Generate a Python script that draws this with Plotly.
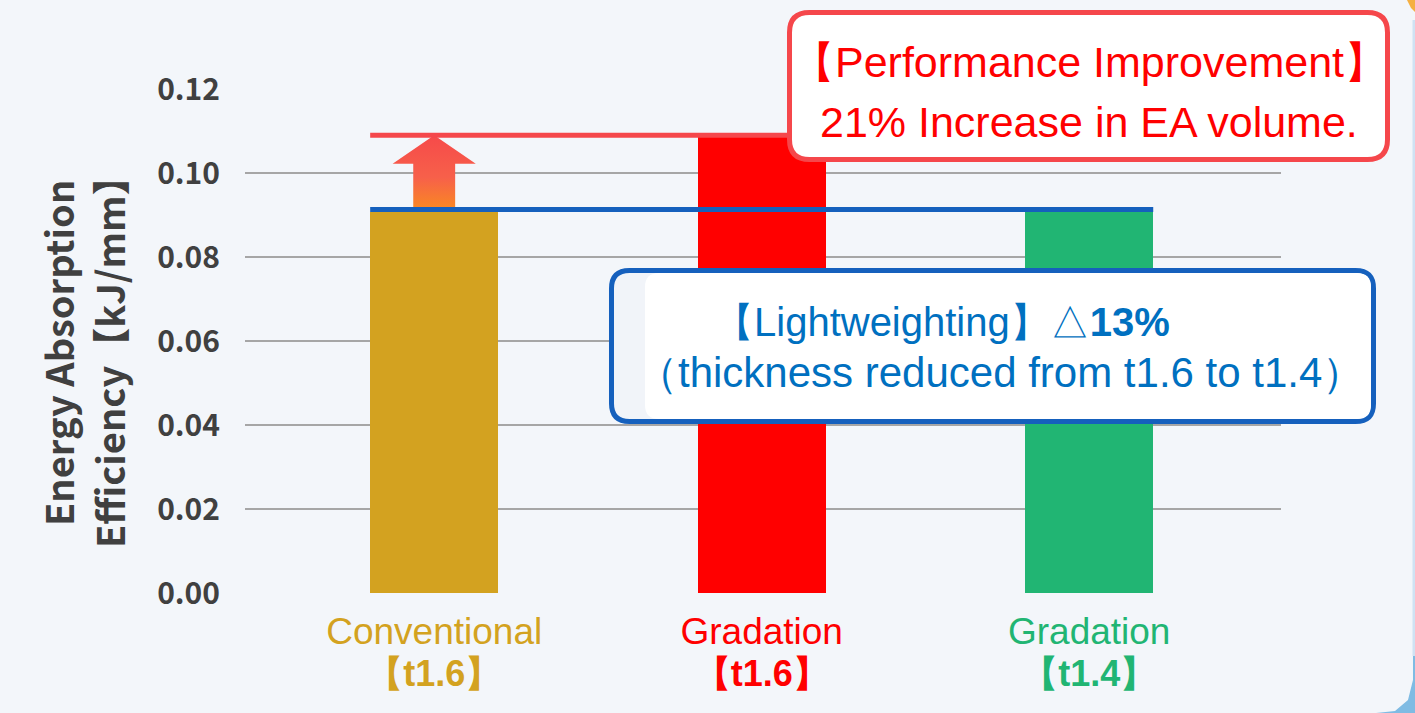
import plotly.graph_objects as go

# ---------------- data ----------------
categories = ["Conventional", "Gradation", "Gradation"]
thickness = ["t1.6", "t1.6", "t1.4"]
ea_efficiency = [0.0907, 0.1090, 0.0907]
y_ticks = [0.00, 0.02, 0.04, 0.06, 0.08, 0.10, 0.12]
y_title_lines = ["Energy Absorption", "Efficiency【kJ/mm】"]
perf_lines = ["【Performance Improvement】", "21% Increase in EA volume."]
light_lines = ["【Lightweighting】△<b>13%</b>", "（thickness reduced from t1.6 to t1.4）"]

# ---------------- style ----------------
bar_colors = ["#D3A220", "#FF0000", "#21B573"]
RED_LINE = "#F5474B"
BLUE_LINE = "#1560BD"
BLUE_TEXT = "#0070C0"
GRID = "#A6A6A6"
BG = "#F3F6FA"
DARK = "#404040"

W, H = 1415, 713
L, R, T, B = 245, 134, 89, 120
PW = W - L - R
PH = H - T - B


def px(x):
    return (x - L) / PW


def py(y):
    return (H - B - y) / PH


def rrect(x0, y0, x1, y1, r):
    """rounded rectangle path in paper coords from pixel coords"""
    def p(x, y):
        return f"{px(x):.5f},{py(y):.5f}"
    return (f"M {p(x0 + r, y0)} L {p(x1 - r, y0)} Q {p(x1, y0)} {p(x1, y0 + r)} "
            f"L {p(x1, y1 - r)} Q {p(x1, y1)} {p(x1 - r, y1)} "
            f"L {p(x0 + r, y1)} Q {p(x0, y1)} {p(x0, y1 - r)} "
            f"L {p(x0, y0 + r)} Q {p(x0, y0)} {p(x0 + r, y0)} Z")


def ppath(points):
    return "M " + " L ".join(f"{px(x):.5f},{py(y):.5f}" for x, y in points) + " Z"


idx = list(range(len(categories)))
bar_w = 0.391
yunit = 0.12 / PH  # data units per pixel

fig = go.Figure()
fig.add_trace(go.Bar(
    x=idx, y=ea_efficiency, width=bar_w,
    marker=dict(color=bar_colors, line=dict(width=0)),
    hoverinfo="skip", showlegend=False,
))

# gradient arrow from conventional level to gradation level
base = ea_efficiency[0]
tip = ea_efficiency[1]
head_base = tip - 0.0068
shw, hhw = 0.064, 0.127
ax = [-shw, shw, shw, hhw, 0, -hhw, -shw, -shw]
ay = [base, base, head_base, head_base, tip, head_base, head_base, base]
fig.add_trace(go.Scatter(
    x=ax, y=ay, mode="lines", line=dict(width=0), fill="toself",
    fillgradient=dict(type="vertical",
                      colorscale=[[0, "#F98C1F"], [0.45, "#F7604A"], [1, "#F64A4A"]]),
    hoverinfo="skip", showlegend=False,
))

shapes = []
# blue reference line at conventional level
shapes.append(dict(type="line", xref="x", yref="y",
                   x0=-bar_w / 2, x1=idx[-1] + bar_w / 2,
                   y0=base + 2.5 * yunit, y1=base + 2.5 * yunit,
                   line=dict(color=BLUE_LINE, width=5), layer="above"))
# red line at improved level
shapes.append(dict(type="line", xref="x", yref="y",
                   x0=-bar_w / 2, x1=1.3, y0=tip, y1=tip,
                   line=dict(color=RED_LINE, width=5), layer="above"))
# performance box
shapes.append(dict(type="path", xref="paper", yref="paper",
                   path=rrect(789.5, 12.5, 1387.5, 159.5, 20),
                   fillcolor="white", line=dict(color=RED_LINE, width=5), layer="above"))
# lightweighting box
shapes.append(dict(type="path", xref="paper", yref="paper",
                   path=rrect(611.5, 270.5, 1373.5, 421.5, 18),
                   fillcolor="#F1F4F9", line=dict(color=BLUE_LINE, width=5), layer="above"))
shapes.append(dict(type="path", xref="paper", yref="paper",
                   path=rrect(645, 273, 1371, 419, 14),
                   fillcolor="white", line=dict(width=0), layer="above"))
# page corner decorations
shapes.append(dict(type="path", xref="paper", yref="paper",
                   path=ppath([(1415, 655), (1415, 713), (1376, 713), (1395, 711), (1408, 700), (1413, 680), (1413, 655)]),
                   fillcolor="#7FBBE3", line=dict(width=0), layer="above"))
shapes.append(dict(type="rect", xref="paper", yref="paper",
                   x0=px(1412.5), x1=px(1416), y0=py(20), y1=py(656),
                   fillcolor="#CFE2F3", line=dict(width=0), layer="above"))
shapes.append(dict(type="path", xref="paper", yref="paper",
                   path=ppath([(1407, 0), (1415, 0), (1415, 12), (1411, 8)]),
                   fillcolor="#F5B042", line=dict(width=0), layer="above"))

annotations = []
# y-axis title (two rotated lines)
for text, xc in zip(y_title_lines, [57, 108]):
    annotations.append(dict(
        text=text, xref="paper", yref="paper", x=px(xc), y=py(353),
        xanchor="center", yanchor="middle", textangle=-90, showarrow=False,
        font=dict(family="Noto Sans CJK JP", size=38, color=DARK, weight="bold"),
    ))
# performance box text
for text, yc in zip(perf_lines, [62, 122]):
    annotations.append(dict(
        text=text, xref="paper", yref="paper", x=px(1089), y=py(yc),
        xanchor="center", yanchor="middle", showarrow=False,
        font=dict(family="Liberation Sans, Arial", size=43, color="#FF0000"),
    ))
# lightweighting box text
for text, xc, yc, fs in zip(light_lines, [942, 1000], [322, 372], [40, 42]):
    annotations.append(dict(
        text=text, xref="paper", yref="paper", x=px(xc), y=py(yc),
        xanchor="center", yanchor="middle", showarrow=False,
        font=dict(family="Liberation Sans, Arial", size=fs, color=BLUE_TEXT),
    ))

ticktext = [
    f'<span style="color:{c};font-size:37px">{cat}</span><br>'
    f'<span style="color:{c};font-size:36px"><b>【{t}】</b></span>'
    for cat, t, c in zip(categories, thickness, bar_colors)
]

x_center0 = 434.2
x_step = 327.5
fig.update_layout(
    width=W, height=H,
    margin=dict(l=L, r=R, t=T, b=B, autoexpand=False),
    paper_bgcolor=BG, plot_bgcolor=BG,
    bargap=0,
    xaxis=dict(
        range=[(L - x_center0) / x_step, (W - R - x_center0) / x_step],
        tickmode="array", tickvals=idx, ticktext=ticktext,
        showgrid=False, zeroline=False, showline=False, ticks="",
        tickfont=dict(family="Liberation Sans, Arial", size=32),
        ticklabelstandoff=18,
    ),
    yaxis=dict(
        range=[0, 0.12], tickmode="array", tickvals=y_ticks,
        tickformat=".2f", showgrid=True, gridcolor=GRID, gridwidth=2,
        zeroline=False, showline=False, ticks="",
        tickfont=dict(family="Noto Sans CJK JP", size=30, color=DARK, weight="bold"),
        ticklabelstandoff=24,
    ),
    shapes=shapes,
    annotations=annotations,
    showlegend=False,
)

fig.write_html(
    "out.html",
    config={"displayModeBar": False},
    post_script="document.body.style.margin='0';document.body.style.overflow='hidden';",
)
